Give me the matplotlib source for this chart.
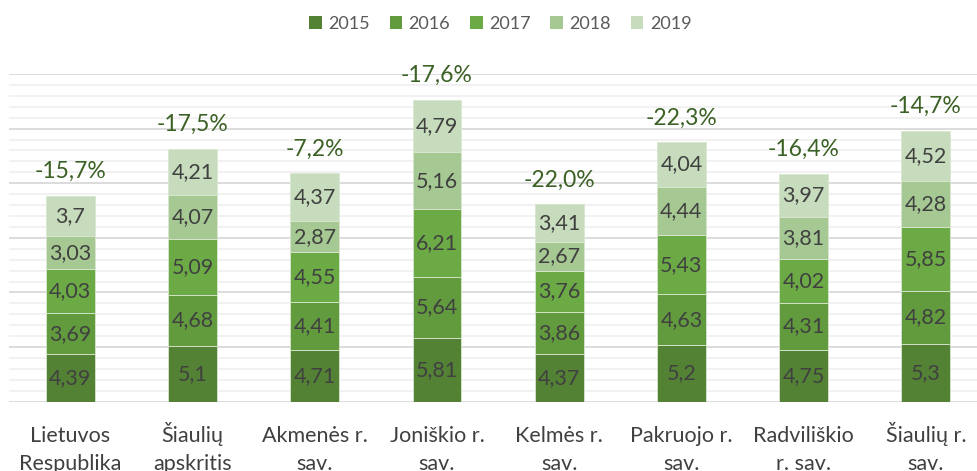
import matplotlib
matplotlib.use("Agg")
import matplotlib.pyplot as plt
import numpy as np
from matplotlib.ticker import MultipleLocator
from matplotlib.patches import Patch

categories = ["Lietuvos\nRespublika", "Šiaulių\napskritis", "Akmenės r.\nsav.",
              "Joniškio r.\nsav.", "Kelmės r.\nsav.", "Pakruojo r.\nsav.",
              "Radviliškio\nr. sav.", "Šiaulių r.\nsav."]
years = ["2015", "2016", "2017", "2018", "2019"]
v2015 = [4.39, 5.1, 4.71, 5.81, 4.37, 5.2, 4.75, 5.3]
v2016 = [3.69, 4.68, 4.41, 5.64, 3.86, 4.63, 4.31, 4.82]
v2017 = [4.03, 5.09, 4.55, 6.21, 3.76, 5.43, 4.02, 5.85]
v2018 = [3.03, 4.07, 2.87, 5.16, 2.67, 4.44, 3.81, 4.28]
v2019 = [3.7, 4.21, 4.37, 4.79, 3.41, 4.04, 3.97, 4.52]
changes = ["-15,7%", "-17,5%", "-7,2%", "-17,6%", "-22,0%", "-22,3%", "-16,4%", "-14,7%"]

series = [v2015, v2016, v2017, v2018, v2019]
colors = ["#548235", "#619b3d", "#6caa46", "#a6c993", "#c6dcbc"]

plt.rcParams['font.family'] = ['Lato', 'DejaVu Sans']

fig = plt.figure(figsize=(9.77, 4.71), dpi=100)
ax = fig.add_axes([0.0094, 0.1471, 1.0008, 0.6958])

x = np.arange(len(categories))
bottom = np.zeros(len(categories))
for vals, col, yr in zip(series, colors, years):
    vals = np.array(vals)
    ax.bar(x, vals, 0.4, bottom=bottom, color=col, edgecolor="#d9e6d0",
           linewidth=0.6, label=yr, zorder=3)
    for xi, b, v in zip(x, bottom, vals):
        ax.text(xi, b + v / 2, f"{v:g}".replace(".", ","), ha="center", va="center",
                fontsize=15.5, color="#404040", zorder=4)
    bottom = bottom + vals

for xi, tot, lab in zip(x, bottom, changes):
    ax.annotate(lab, (xi, tot), xytext=(0, 10), textcoords="offset points",
                ha="center", va="bottom", fontsize=16.5, color="#3b6125")

ax.set_xlim(-0.5, len(categories) - 0.5)
ax.set_ylim(0, 30)
ax.yaxis.set_major_locator(MultipleLocator(5))
ax.yaxis.set_minor_locator(MultipleLocator(1))
ax.grid(axis="y", which="major", color="#d9d9d9", linewidth=1.3, zorder=0)
ax.grid(axis="y", which="minor", color="#f0f0f0", linewidth=1.3, zorder=0)
ax.set_axisbelow(True)
for s in ax.spines.values():
    s.set_visible(False)
ax.tick_params(axis="y", which="both", left=False, labelleft=False)
ax.set_xticks(x)
ax.tick_params(axis="x", length=0, labelbottom=False)

trans = ax.get_xaxis_transform()
for xi, cat in zip(x, categories):
    lines = cat.split("\n")
    for k, line in enumerate(lines):
        ax.text(xi, -0.1221 - k * 0.0854, line, transform=trans, ha="center",
                va="baseline", fontsize=15.5, color="#404040", clip_on=False)

handles = [Patch(facecolor=c, edgecolor="none") for c in colors]
fig.legend(handles, years, loc="center", bbox_to_anchor=(0.512, 0.949), ncol=5,
           frameon=False, fontsize=13, labelcolor="#595959", handlelength=0.7,
           handleheight=0.7, handletextpad=0.35, columnspacing=1.1)

fig.savefig("out.png", dpi=100)
